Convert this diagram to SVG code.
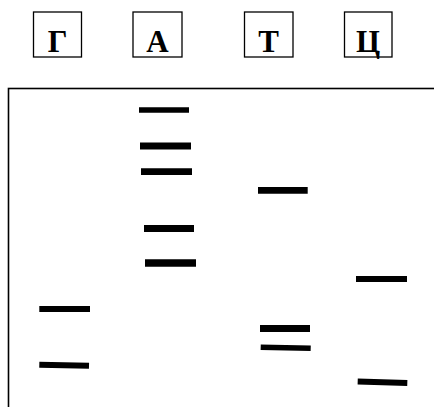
<svg xmlns="http://www.w3.org/2000/svg" width="434" height="407" viewBox="0 0 434 407">
<style>
.box{fill:#fff;stroke:#000;stroke-width:1.3}
.lbl{font-family:"Liberation Serif","Times New Roman",serif;font-weight:bold;font-size:31px;text-anchor:middle;fill:#000}
.band{stroke:#000;stroke-linecap:butt;fill:none}
</style>
<rect width="434" height="407" fill="#fff"/>
<g id="label-G"><rect class="box" x="33.5" y="12" width="48" height="45"/><text class="lbl" x="57.5" y="51.5">Г</text></g>
<g id="label-A"><rect class="box" x="133" y="12" width="49" height="45"/><text class="lbl" x="157.5" y="51.5">А</text></g>
<g id="label-T"><rect class="box" x="244.5" y="12" width="48.5" height="45"/><text class="lbl" x="268.7" y="51.5">Т</text></g>
<g id="label-C"><rect class="box" x="344.5" y="12" width="47.5" height="45"/><text class="lbl" x="368" y="51.5">Ц</text></g>
<g id="gel">
<rect x="8.5" y="88.5" width="440" height="330" fill="none" stroke="#000" stroke-width="1.6"/>
</g>
<g id="bands">
<line class="band" x1="139" y1="110" x2="189" y2="110" stroke-width="5.5"/>
<line class="band" x1="140" y1="146" x2="191" y2="146" stroke-width="7"/>
<line class="band" x1="141" y1="171.7" x2="192" y2="171.7" stroke-width="6.7"/>
<line class="band" x1="258" y1="190.3" x2="307.7" y2="190.3" stroke-width="6.7"/>
<line class="band" x1="144" y1="228.5" x2="194" y2="228.5" stroke-width="7"/>
<line class="band" x1="145" y1="263" x2="196" y2="263" stroke-width="7.5"/>
<line class="band" x1="356" y1="279" x2="407" y2="279" stroke-width="6"/>
<line class="band" x1="39.3" y1="309" x2="90" y2="309" stroke-width="6"/>
<line class="band" x1="260" y1="328.5" x2="310" y2="328.5" stroke-width="7"/>
<line class="band" x1="260.7" y1="347.2" x2="310.7" y2="348.3" stroke-width="5.5"/>
<line class="band" x1="39.3" y1="364.8" x2="89" y2="365.8" stroke-width="6"/>
<line class="band" x1="357.7" y1="381.5" x2="407.3" y2="383" stroke-width="6"/>
</g>
</svg>
